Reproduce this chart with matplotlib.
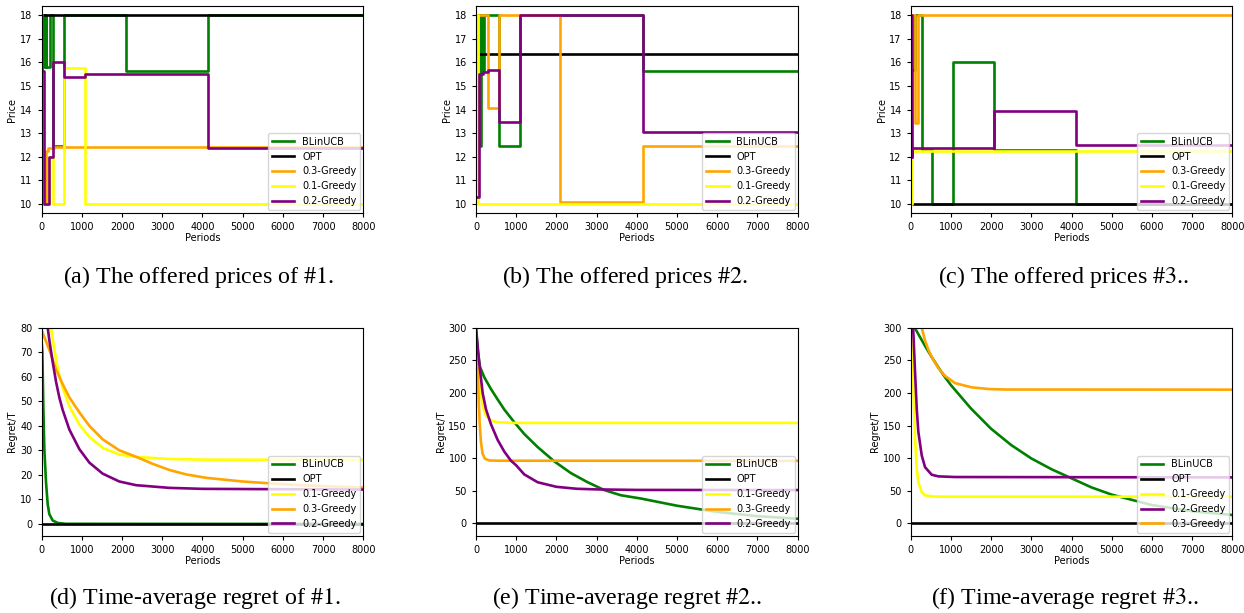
import matplotlib
matplotlib.use("Agg")
import matplotlib.pyplot as plt

# ---- offered prices (step series: change points and price after each) ----
a_blin_t = [0, 66, 100, 120, 207, 290, 555, 2100, 4150]
a_blin_p = [18, 15.8, 18, 15.8, 18, 12.45, 18, 15.65, 18]
a_opt_t = [0]
a_opt_p = [18]
a_g03_t = [0, 100, 150, 300]
a_g03_p = [10, 12.25, 12.38, 12.4]
a_g01_t = [0, 20, 175, 290, 555, 1086]
a_g01_p = [18, 10, 12, 10, 15.75, 10]
a_g02_t = [0, 20, 66, 175, 290, 555, 1086, 4150]
a_g02_p = [18, 15.65, 10, 12, 16, 15.4, 15.5, 12.38]

b_blin_t = [0, 100, 125, 160, 200, 575, 1100, 4150]
b_blin_p = [18, 12.45, 18, 15.65, 18, 12.45, 18, 15.62]
b_opt_t = [0]
b_opt_p = [16.38]
b_g03_t = [0, 58, 300, 575, 2100, 4150]
b_g03_p = [15.6, 18, 14.07, 18, 10.08, 12.45]
b_g01_t = [0, 55]
b_g01_p = [18, 10]
b_g02_t = [0, 80, 165, 290, 575, 1100, 4150]
b_g02_p = [10.3, 15.5, 15.6, 15.7, 13.45, 18, 13.05]

c_blin_t = [0, 100, 275, 540, 1040, 2070, 4120]
c_blin_p = [15.7, 18, 12.3, 10, 16.02, 12.3, 10]
c_opt_t = [0]
c_opt_p = [10]
c_g03_t = [0, 108, 175]
c_g03_p = [18, 13.44, 18]
c_g01_t = [0, 40]
c_g01_p = [10, 12.22]
c_g02_t = [0, 25, 40, 2070, 4120]
c_g02_p = [18, 12.0, 12.38, 13.95, 12.5]

# ---- time-average regret ----
d_blin_t = [0, 17, 41, 66, 108, 150, 190, 274, 400, 600, 8000]
d_blin_r = [74, 70, 48, 30.5, 17, 8, 4, 1.4, 0.4, 0.05, 0]
d_g01_t = [200, 230, 274, 357, 440, 522, 688, 937, 1186, 1517, 1932, 2347, 3176, 4005, 8000]
d_g01_r = [84, 80, 75.5, 67, 60.5, 55.5, 48, 40.5, 35.5, 31, 28.3, 27.3, 26.5, 26.2, 26.1]
d_g03_t = [0, 190, 357, 522, 688, 937, 1186, 1517, 1932, 2347, 2761, 3176, 3590, 4088, 5000, 6000, 7000, 8000]
d_g03_r = [79, 71, 63, 57, 51.6, 45.5, 40, 34.5, 30, 27.4, 24.5, 22, 20.2, 18.8, 17.3, 16.2, 15.4, 14.8]
d_g02_t = [120, 150, 190, 274, 357, 440, 522, 688, 937, 1186, 1517, 1932, 2347, 3176, 4005, 8000]
d_g02_r = [85, 80, 75, 66, 58, 51.5, 46.5, 38.5, 30.5, 25, 20.5, 17.3, 15.8, 14.7, 14.3, 14.0]

e_blin_t = [0, 50, 100, 207, 373, 539, 705, 954, 1202, 1534, 1949, 2363, 2778, 3192, 3607, 4104, 5000, 6000, 7000, 8000]
e_blin_r = [300, 262, 240, 224, 206, 190, 174.5, 155, 137, 117, 95, 77, 63, 51, 43, 38, 27, 17.5, 11, 7]
e_g01_t = [0, 83, 166, 249, 373, 539, 871, 8000]
e_g01_r = [285, 216, 180, 165, 157.6, 155, 154, 154]
e_g03_t = [0, 25, 58, 91, 124, 166, 224, 332, 539, 8000]
e_g03_r = [280, 257, 206, 155, 124.5, 106.6, 99, 96.4, 96, 95.9]
e_g02_t = [0, 83, 166, 249, 373, 539, 705, 871, 1000, 1202, 1534, 2000, 2500, 3000, 4000, 8000]
e_g02_r = [300, 245, 200, 175, 152, 128, 110, 96, 89, 75, 63, 56, 53, 52, 51.2, 51]

f_blin_t = [100, 190, 357, 522, 688, 854, 1000, 1500, 2000, 2500, 3000, 3500, 4000, 4500, 5000, 6000, 7000, 8000]
f_blin_r = [300, 290, 272, 255, 239, 224, 212, 176, 145, 120, 99.5, 83, 69, 55, 44, 28, 18.5, 12.8]
f_g01_t = [0, 66, 108, 150, 190, 274, 357, 522, 800, 8000]
f_g01_r = [300, 206, 130, 84, 63, 48, 43, 41.3, 40.8, 40.8]
f_g02_t = [60, 108, 150, 190, 274, 357, 522, 688, 1103, 8000]
f_g02_r = [300, 231, 175, 140, 104, 86, 74.5, 72, 71, 70.4]
f_g03_t = [274, 357, 440, 522, 688, 854, 1103, 1517, 1932, 2347, 8000]
f_g03_r = [300, 280, 266, 255, 238, 226, 215, 208.5, 206, 205.2, 205]

T_END = 8000
COL = {"BLinUCB": "green", "OPT": "black", "0.1-Greedy": "yellow",
       "0.2-Greedy": "purple", "0.3-Greedy": "orange"}
LW = 1.9

plt.rcParams["mathtext.fontset"] = "stix"
fig = plt.figure(figsize=(12.44, 6.13), dpi=100)
lefts = [0.0335, 0.3826, 0.7321]
w = 0.2585
top_ax = [fig.add_axes([l, 0.6525, w, 0.3377]) for l in lefts]
bot_ax = [fig.add_axes([l, 0.1261, w, 0.3393]) for l in lefts]


def steps(ax, t, p, name):
    ax.plot(list(t) + [T_END], list(p) + [p[-1]], drawstyle="steps-post",
            color=COL[name], lw=LW, label=name)


def finish(ax, ylabel):
    ax.set_xlim(0, T_END)
    ax.set_xticks(range(0, 8001, 1000))
    ax.tick_params(labelsize=7, length=3, width=0.8)
    ax.set_xlabel("Periods", fontsize=7, labelpad=1)
    ax.set_ylabel(ylabel, fontsize=7, labelpad=2)
    ax.legend(loc="lower right", fontsize=7, handlelength=2.3,
              borderaxespad=0.3, framealpha=0.8)


price_sets = [
    [("BLinUCB", a_blin_t, a_blin_p), ("OPT", a_opt_t, a_opt_p), ("0.3-Greedy", a_g03_t, a_g03_p),
     ("0.1-Greedy", a_g01_t, a_g01_p), ("0.2-Greedy", a_g02_t, a_g02_p)],
    [("BLinUCB", b_blin_t, b_blin_p), ("OPT", b_opt_t, b_opt_p), ("0.3-Greedy", b_g03_t, b_g03_p),
     ("0.1-Greedy", b_g01_t, b_g01_p), ("0.2-Greedy", b_g02_t, b_g02_p)],
    [("BLinUCB", c_blin_t, c_blin_p), ("OPT", c_opt_t, c_opt_p), ("0.3-Greedy", c_g03_t, c_g03_p),
     ("0.1-Greedy", c_g01_t, c_g01_p), ("0.2-Greedy", c_g02_t, c_g02_p)],
]
for ax, series in zip(top_ax, price_sets):
    for name, t, p in series:
        steps(ax, t, p, name)
    ax.set_ylim(9.6, 18.4)
    ax.set_yticks(range(10, 19))
    finish(ax, "Price")

regret_sets = [
    [("BLinUCB", d_blin_t, d_blin_r), ("OPT", [0, T_END], [0, 0]), ("0.1-Greedy", d_g01_t, d_g01_r),
     ("0.3-Greedy", d_g03_t, d_g03_r), ("0.2-Greedy", d_g02_t, d_g02_r)],
    [("BLinUCB", e_blin_t, e_blin_r), ("OPT", [0, T_END], [0, 0]), ("0.1-Greedy", e_g01_t, e_g01_r),
     ("0.3-Greedy", e_g03_t, e_g03_r), ("0.2-Greedy", e_g02_t, e_g02_r)],
    [("BLinUCB", f_blin_t, f_blin_r), ("OPT", [0, T_END], [0, 0]), ("0.1-Greedy", f_g01_t, f_g01_r),
     ("0.2-Greedy", f_g02_t, f_g02_r), ("0.3-Greedy", f_g03_t, f_g03_r)],
]
regret_ylim = [(-4.8, 80), (-19, 300), (-19, 300)]
for ax, series, yl in zip(bot_ax, regret_sets, regret_ylim):
    for name, t, r in series:
        ax.plot(t, r, color=COL[name], lw=LW, label=name)
    ax.set_ylim(*yl)
    finish(ax, "Regret/T")

cap = dict(fontsize=17.3, family="Liberation Serif", ha="center", va="center")
top_caps = [r"(a) The offered prices of $\#1$.", r"(b) The offered prices $\#2$.",
            r"(c) The offered prices $\#3$.."]
bot_caps = [r"(d) Time-average regret of $\#1$.", r"(e) Time-average regret $\#2$..",
            r"(f) Time-average regret $\#3$.."]
for x, s in zip([199 / 1244, 625 / 1244, 1064 / 1244], top_caps):
    fig.text(x, 1 - 277 / 613, s, **cap)
for x, s in zip([195 / 1244, 627 / 1244, 1065 / 1244], bot_caps):
    fig.text(x, 1 - 598 / 613, s, **cap)

fig.savefig("out.png", dpi=100)
